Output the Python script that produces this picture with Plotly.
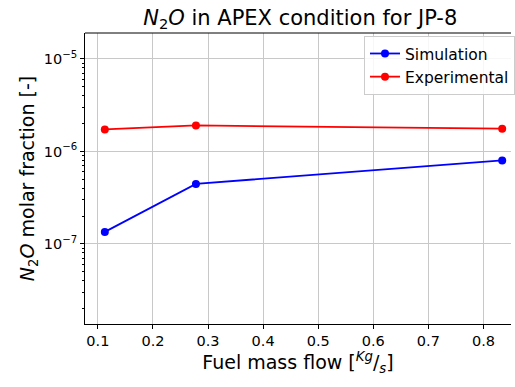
import plotly.graph_objects as go

# Fuel mass flow [kg/s]
mass_flow = [0.1126, 0.278, 0.834]
# N2O molar fraction [-]
simulation = [1.35e-7, 4.46e-7, 8.0e-7]
experimental = [1.73e-6, 1.91e-6, 1.76e-6]

x_ticks = [0.1, 0.2, 0.3, 0.4, 0.5, 0.6, 0.7, 0.8]
y_ticks = [1e-7, 1e-6, 1e-5]
y_ticktext = ["10<sup>−7</sup>", "10<sup>−6</sup>", "10<sup>−5</sup>"]
y_minor = [m * 10.0 ** e for e in (-8, -7, -6, -5) for m in range(2, 10)]

FONT = "DejaVu Sans"

fig = go.Figure()
fig.add_trace(go.Scatter(
    x=mass_flow, y=simulation, name="Simulation", mode="lines+markers",
    line=dict(color="#0000ff", width=1.8), marker=dict(color="#0000ff", size=8),
))
fig.add_trace(go.Scatter(
    x=mass_flow, y=experimental, name="Experimental", mode="lines+markers",
    line=dict(color="#ff0000", width=1.8), marker=dict(color="#ff0000", size=8),
))

axis_common = dict(
    showline=True, linecolor="black", linewidth=1,
    showgrid=True, gridcolor="#c8c8c8", gridwidth=1,
    ticks="outside", ticklen=4, tickcolor="black",
    zeroline=False,
    tickfont=dict(family=FONT, size=14.5, color="black"),
)

fig.update_xaxes(
    range=[0.0766, 0.85], tickvals=x_ticks,
    ticktext=[f"{v:.1f}" for v in x_ticks],
    title=dict(text="Fuel mass flow [<sup><i>Kg</i></sup>/<sub><i>s</i></sub>]",
               font=dict(family=FONT, size=19, color="black"), standoff=4),
    **axis_common,
)
fig.update_yaxes(
    type="log", range=[-7.865, -4.72], tickvals=y_ticks, ticktext=y_ticktext,
    minor=dict(tickmode="array", tickvals=y_minor, ticks="outside", ticklen=2,
               tickcolor="black", showgrid=False),
    title=dict(text="<i>N</i><sub>2</sub><i>O</i> molar fraction [-]",
               font=dict(family=FONT, size=19, color="black"), standoff=4),
    **axis_common,
)

# top spine (the right side of the axes runs past the figure edge)
fig.add_shape(type="line", xref="paper", yref="paper", x0=0, x1=1, y0=1, y1=1,
              line=dict(color="black", width=1))

fig.update_layout(
    width=515, height=387,
    margin=dict(l=85, r=0, t=33, b=63),
    paper_bgcolor="white", plot_bgcolor="white",
    font=dict(family=FONT, color="black"),
    title=dict(text="<i>N</i><sub>2</sub><i>O</i> in APEX condition for JP-8",
               x=0.583, xanchor="center", y=0.955, yanchor="middle",
               font=dict(family=FONT, size=21, color="black")),
    legend=dict(x=1.01, xanchor="right", y=0.99, yanchor="top",
                bgcolor="rgba(255,255,255,0.85)", bordercolor="#cccccc",
                borderwidth=1, font=dict(family=FONT, size=15.5, color="black"),
                tracegroupgap=2),
    showlegend=True,
)

fig.write_html("out.html")
